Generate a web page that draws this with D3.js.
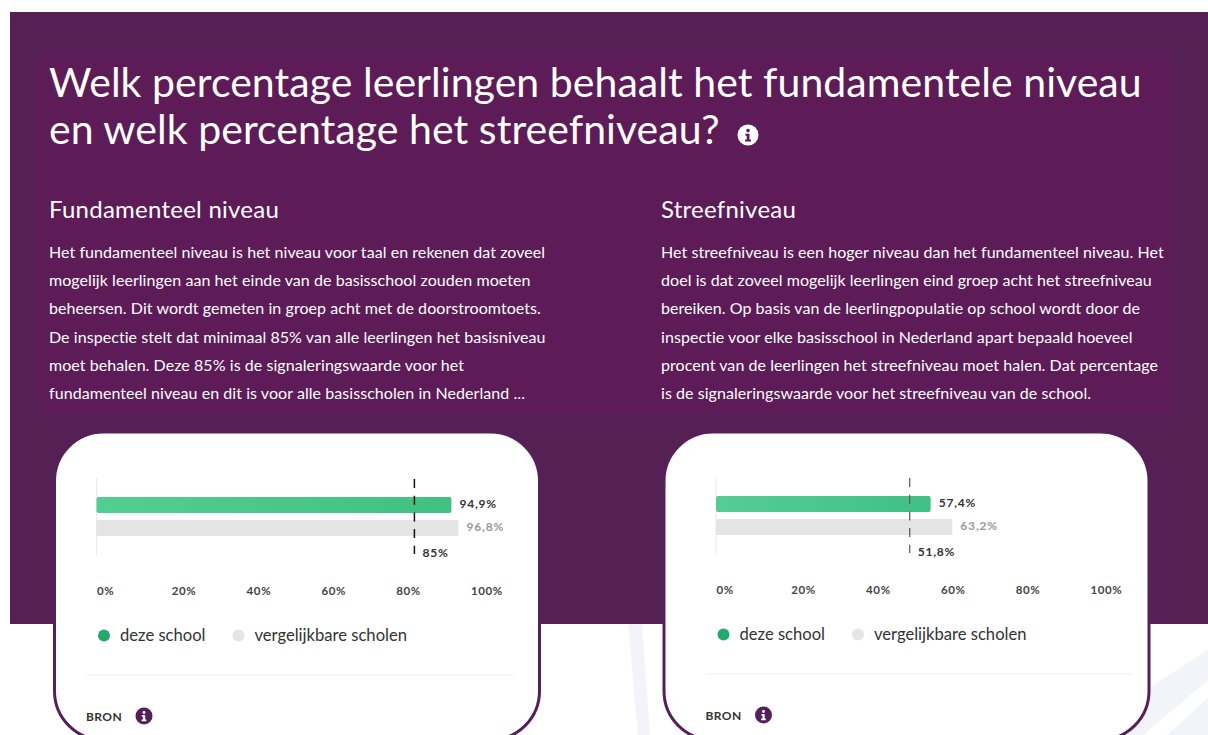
<!DOCTYPE html>
<html>
<head>
<meta charset="utf-8">
<script src="https://cdn.jsdelivr.net/npm/d3@7"></script>
<style>
  html, body { margin: 0; padding: 0; background: #fff; overflow: hidden; }
  svg { display: block; font-family: Lato, "Open Sans", sans-serif; }
</style>
</head>
<body>
<svg id="chart" width="1208" height="735"></svg>
<script>
const titleLines = [
  "Welk percentage leerlingen behaalt het fundamentele niveau",
  "en welk percentage het streefniveau?",
];
const panelTitles = ["Fundamenteel niveau", "Streefniveau"];
const leftText = [
  "Het fundamenteel niveau is het niveau voor taal en rekenen dat zoveel",
  "mogelijk leerlingen aan het einde van de basisschool zouden moeten",
  "beheersen. Dit wordt gemeten in groep acht met de doorstroomtoets.",
  "De inspectie stelt dat minimaal 85% van alle leerlingen het basisniveau",
  "moet behalen. Deze 85% is de signaleringswaarde voor het",
  "fundamenteel niveau en dit is voor alle basisscholen in Nederland ...",
];
const rightText = [
  "Het streefniveau is een hoger niveau dan het fundamenteel niveau. Het",
  "doel is dat zoveel mogelijk leerlingen eind groep acht het streefniveau",
  "bereiken. Op basis van de leerlingpopulatie op school wordt door de",
  "inspectie voor elke basisschool in Nederland apart bepaald hoeveel",
  "procent van de leerlingen het streefniveau moet halen. Dat percentage",
  "is de signaleringswaarde voor het streefniveau van de school.",
];
const legendLabels = ["deze school", "vergelijkbare scholen"];
const ticks = [0, 20, 40, 60, 80, 100];
const schoolValues = [94.9, 57.4];
const compareValues = [96.8, 63.2];
const thresholdValues = [85, 51.8];
const valueLabels = [["94,9%", "96,8%", "85%"], ["57,4%", "63,2%", "51,8%"]];

const svg = d3.select("#chart");
const purple = "#561f5a";

const grad = svg.append("defs").append("linearGradient").attr("id", "greenBar");
grad.append("stop").attr("offset", "0%").attr("stop-color", "#54cd92");
grad.append("stop").attr("offset", "100%").attr("stop-color", "#41c083");

// BACKGROUND
const bgShapes = svg.append("g").attr("fill", "#f3f4fa");
bgShapes.append("path").attr("d", "M628,624 L642,624 L650,735 L638,735 Z");
bgShapes.append("path").attr("d", "M1208,650 L1130,700 L1130,735 L1143,735 L1208,680 Z");
bgShapes.append("path").attr("d", "M1208,698 L1167,735 L1208,735 Z");

svg.append("rect").attr("x", 10).attr("y", 12).attr("width", 1198).attr("height", 612).attr("fill", "#552154");
svg.append("rect").attr("x", 38).attr("y", 52).attr("width", 1135).attr("height", 362).attr("fill", "#5d1b57");

// HEADER TEXT
const textG = svg.append("g").attr("fill", "#fff");
titleLines.forEach((t, i) => {
  textG.append("text").attr("x", 49).attr("y", 96.5 + i * 47).attr("font-size", 41).attr("letter-spacing", 0.05).text(t);
});
const infoIcon = (sel, cx, cy, r, bg, fg) => {
  const g = sel.append("g").attr("transform", `translate(${cx},${cy})`);
  g.append("circle").attr("r", r).attr("fill", bg);
  g.append("circle").attr("cy", -r * 0.42).attr("r", r * 0.17).attr("fill", fg);
  g.append("path")
    .attr("d", `M${-r * 0.25},${-r * 0.12}H${r * 0.14}V${r * 0.42}H${r * 0.28}V${r * 0.62}H${-r * 0.28}V${r * 0.42}H${-r * 0.12}V${r * 0.08}H${-r * 0.25}Z`)
    .attr("fill", fg);
};
infoIcon(svg, 748, 135, 10.5, "#fff", "#5d1b57");

[[49, leftText], [661, rightText]].forEach(([x, lines], p) => {
  textG.append("text").attr("x", x).attr("y", 218).attr("font-size", 24).attr("letter-spacing", 0.25).text(panelTitles[p]);
  lines.forEach((t, i) => {
    textG.append("text").attr("x", x).attr("y", 258 + i * 28.2).attr("font-size", 16).attr("letter-spacing", 0.06).text(t);
  });
});

// CARDS
const drawCard = (p, cardX, x0, offY) => {
  const g = svg.append("g");
  g.append("rect").attr("x", cardX).attr("y", 432).attr("width", 485).attr("height", 308).attr("rx", 49)
    .attr("fill", "#fff").attr("stroke", purple).attr("stroke-width", 3);

  const x = d3.scaleLinear().domain([0, 100]).range([x0, x0 + 374]);
  const y = d3.scaleBand().domain(["school", "compare"]).range([497 + offY, 536 + offY]).paddingInner(7 / 23).paddingOuter(0);

  g.append("line").attr("x1", x(0)).attr("x2", x(0)).attr("y1", 478 + offY).attr("y2", 555 + offY).attr("stroke", "#e8e8e8");

  const bars = [
    { key: "school", v: schoolValues[p], fill: "url(#greenBar)", label: valueLabels[p][0], color: "#333" },
    { key: "compare", v: compareValues[p], fill: "#e5e5e5", label: valueLabels[p][1], color: "#999" },
  ];
  bars.forEach((b) => {
    g.append("rect").attr("x", x(0)).attr("y", y(b.key)).attr("width", x(b.v) - x(0)).attr("height", y.bandwidth()).attr("rx", 2).attr("fill", b.fill);
    g.append("text").attr("x", x(b.v) + 8).attr("y", y(b.key) + 11).attr("font-size", 12).attr("font-weight", 700).attr("letter-spacing", 0.8).attr("fill", b.color).text(b.label);
  });

  g.append("line").attr("x1", x(thresholdValues[p])).attr("x2", x(thresholdValues[p]))
    .attr("y1", 479 + offY).attr("y2", 554 + offY)
    .attr("stroke", p === 0 ? "#111" : "#555").attr("stroke-width", p === 0 ? 1.5 : 1.2).attr("stroke-dasharray", "9 7.7");
  g.append("text").attr("x", x(thresholdValues[p]) + 8).attr("y", 557 + offY).attr("font-size", 12).attr("font-weight", 700).attr("letter-spacing", 0.8).attr("fill", "#333").text(valueLabels[p][2]);

  // axis labels sit to the right of their tick position
  const axis = g.append("g").attr("transform", `translate(0,${584 + offY})`)
    .call(d3.axisBottom(x).tickValues(ticks).tickSize(0).tickFormat((d) => d + "%"));
  axis.select(".domain").remove();
  axis.selectAll(".tick text").attr("text-anchor", "start").attr("fill", "#444")
    .style("font-family", "Lato").style("font-size", "11.5px").style("font-weight", 700).style("letter-spacing", "0.6px");

  // LEGEND
  const legendX = [x0 + 7.5, x0 + 142];
  legendLabels.forEach((l, i) => {
    g.append("circle").attr("cx", legendX[i]).attr("cy", 635.5 + offY).attr("r", 6).attr("fill", i === 0 ? "#25a96f" : "#e5e5e5");
    g.append("text").attr("x", legendX[i] + 16).attr("y", 641 + offY).attr("font-size", 16.6).attr("fill", "#333").text(l);
  });

  g.append("line").attr("x1", x0 - 10.5).attr("x2", x0 + 418).attr("y1", 675 + offY).attr("y2", 675 + offY).attr("stroke", "#eee");
  g.append("text").attr("x", x0 - 10.5).attr("y", 721 + offY).attr("font-size", 12).attr("font-weight", 700).attr("fill", "#333").attr("letter-spacing", 0.4).text("BRON");
  infoIcon(g, x0 + 47.5, 716 + offY, 8.5, purple, "#fff");
};
drawCard(0, 54.5, 96.5, 0);
drawCard(1, 664, 716, -1);
</script>
</body>
</html>
